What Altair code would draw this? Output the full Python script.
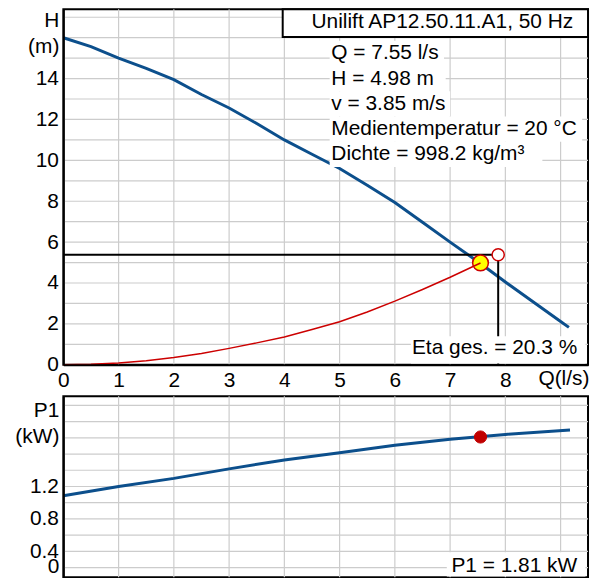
import altair as alt
import pandas as pd

# ---------------- data ----------------
# pump curve H(Q)
q_pump = [0, 0.5, 1, 1.5, 2, 2.5, 3, 3.5, 4, 4.5, 5, 5.5, 6, 6.5, 7, 7.5, 8, 8.5, 9, 9.15]
h_pump = [16.0, 15.56, 15.0, 14.5, 13.95, 13.22, 12.56, 11.8, 11.0, 10.3, 9.6, 8.78,
          7.94, 6.97, 6.0, 5.05, 4.05, 3.08, 2.12, 1.83]
# system curve
q_sys = [0, 0.5, 1, 1.5, 2, 2.5, 3, 3.5, 4, 4.5, 5, 5.5, 6, 6.5, 7, 7.55]
h_sys = [0, 0.02, 0.09, 0.2, 0.35, 0.55, 0.8, 1.07, 1.36, 1.72, 2.1, 2.58, 3.11, 3.68, 4.28, 4.98]
# power curve P1(Q)
q_p1 = [0, 1, 2, 3, 4, 5, 6, 7, 8, 9.17]
p1_kw = [1.086, 1.20, 1.30, 1.417, 1.527, 1.617, 1.707, 1.781, 1.842, 1.895]

op_q, op_h, op_p1 = 7.55, 4.98, 1.81
ref_q, ref_h = 7.87, 5.38

# axis ticks / grid
q_ticks = [0, 1, 2, 3, 4, 5, 6, 7, 8]
h_ticks = [0, 2, 4, 6, 8, 10, 12, 14]
p_ticks = [0.4, 0.8, 1.2]
q_grid = [1, 2, 3, 4, 5, 6, 7, 8, 9]
h_grid = [1, 2, 3, 4, 5, 6, 7, 8, 9, 10, 11, 12, 13, 14, 15, 16, 17]
p_grid = [0.2, 0.4, 0.6, 0.8, 1.0, 1.2, 1.4, 1.6, 1.8, 2.0, 2.2]

title_text = "Unilift AP12.50.11.A1, 50 Hz"
info_lines = ["Q = 7.55 l/s", "H = 4.98 m", "v = 3.85 m/s",
              "Medientemperatur = 20 °C", "Dichte = 998.2 kg/m³"]
eta_text = "Eta ges. = 20.3 %"
p1_text = "P1 = 1.81 kW"

# ---------------- layout / style ----------------
W = 528
H_TOP = 357.7
H_BOT = 182
Q_MAX = 9.496
H_MAX = 17.39
P_MIN, P_MAX = 0.082, 2.311
FONT = "Liberation Sans"
FS = 21
BLUE = "#0c4f8c"
RED = "#cc0000"
GRID = "#cccccc"

info_h = [15.23, 13.99, 12.76, 11.53, 10.30]
info_right = [6.89, 6.92, 7.0, 9.39, 8.67]
info_left = 4.82
info_text_q = 4.85

XS = alt.Scale(domain=[0, Q_MAX], nice=False, zero=False)
YS_T = alt.Scale(domain=[0, H_MAX], nice=False, zero=False)
YS_B = alt.Scale(domain=[P_MIN, P_MAX], nice=False, zero=False)

common_axis = dict(title=None, grid=False, ticks=False, tickSize=0, labelPadding=5,
                   labelFlush=False, labelOverlap=False, domainColor="black",
                   domainWidth=2, zindex=1)
ax_x_top = alt.Axis(values=q_ticks, **common_axis)
ax_y_top = alt.Axis(values=h_ticks, **common_axis)
ax_x_bot = alt.Axis(values=q_ticks, labels=False, domain=False, title=None, grid=False,
                    ticks=False, tickSize=0)
ax_y_bot = alt.Axis(values=p_ticks, format=".1f", **common_axis)


def xt(f="Q"):
    return alt.X(f"{f}:Q", scale=XS, axis=ax_x_top)


def yt(f="H"):
    return alt.Y(f"{f}:Q", scale=YS_T, axis=ax_y_top)


def xb(f="Q"):
    return alt.X(f"{f}:Q", scale=XS, axis=ax_x_bot)


def yb(f="P"):
    return alt.Y(f"{f}:Q", scale=YS_B, axis=ax_y_bot)


def text_mark(chart, align):
    return chart.mark_text(font=FONT, fontSize=FS, color="black", align=align,
                           baseline="middle")


# ---------------- top panel ----------------
pump_df = pd.DataFrame({"Q": q_pump, "H": h_pump})
sys_df = pd.DataFrame({"Q": q_sys, "H": h_sys})

grid_v_top = alt.Chart(pd.DataFrame({"Q": q_grid})).mark_rule(
    color=GRID, strokeWidth=1.2).encode(x=xt())
grid_h_top = alt.Chart(pd.DataFrame({"H": h_grid})).mark_rule(
    color=GRID, strokeWidth=1.2).encode(y=yt())

pump_line = alt.Chart(pump_df).mark_line(color=BLUE, strokeWidth=3).encode(x=xt(), y=yt())

hline = alt.Chart(pd.DataFrame({"Q": [0], "Q2": [ref_q], "H": [ref_h]})).mark_rule(
    color="black", strokeWidth=2).encode(x=xt(), x2="Q2:Q", y=yt())
vline = alt.Chart(pd.DataFrame({"Q": [ref_q], "H": [0], "H2": [ref_h]})).mark_rule(
    color="black", strokeWidth=2).encode(x=xt(), y=yt(), y2="H2:Q")

op_pt = alt.Chart(pd.DataFrame({"Q": [op_q], "H": [op_h]})).mark_point(
    shape="circle", filled=True, fill="#ffff00", stroke=RED, strokeWidth=1.5,
    size=250, opacity=1).encode(x=xt(), y=yt())

sys_line = alt.Chart(sys_df).mark_line(color=RED, strokeWidth=1.5).encode(x=xt(), y=yt())

ref_pt = alt.Chart(pd.DataFrame({"Q": [ref_q], "H": [ref_h]})).mark_point(
    shape="circle", filled=True, fill="white", stroke=RED, strokeWidth=1.5,
    size=150, opacity=1).encode(x=xt(), y=yt())

bg_df = pd.DataFrame({
    "Q": [info_left] * 5 + [6.29],
    "Q2": info_right + [9.45],
    "H": [h + 0.62 for h in info_h] + [1.40],
    "H2": [h - 0.62 for h in info_h] + [0.06],
})
bgs = alt.Chart(bg_df).mark_rect(color="white").encode(x=xt(), x2="Q2:Q", y=yt(), y2="H2:Q")

info_df = pd.DataFrame({"Q": [info_text_q] * 5, "H": info_h, "t": info_lines})
info_txt = text_mark(alt.Chart(info_df), "left").encode(x=xt(), y=yt(), text="t:N")

eta_txt = text_mark(alt.Chart(pd.DataFrame({"Q": [9.30], "H": [0.81], "t": [eta_text]})),
                    "right").encode(x=xt(), y=yt(), text="t:N")

title_box = alt.Chart(pd.DataFrame({"Q": [3.97], "Q2": [Q_MAX], "H": [16.04], "H2": [H_MAX]})).mark_rect(
    fill="white", stroke="black", strokeWidth=2).encode(x=xt(), x2="Q2:Q", y=yt(), y2="H2:Q")
title_txt = text_mark(alt.Chart(pd.DataFrame({"Q": [6.86], "H": [16.75], "t": [title_text]})),
                      "center").encode(x=xt(), y=yt(), text="t:N")

ylab_top = text_mark(alt.Chart(pd.DataFrame({"H": [16.8, 15.56], "t": ["H", "(m)"]})),
                     "right").encode(x=alt.value(-4), y=yt(), text="t:N")

qlab = text_mark(alt.Chart(pd.DataFrame({"Q": [9.06], "t": ["Q(l/s)"]})),
                 "center").encode(x=xt(), y=alt.value(H_TOP + 14.3), text="t:N")

top = alt.layer(grid_v_top, grid_h_top, pump_line, hline, vline, op_pt, sys_line, ref_pt,
                bgs, info_txt, eta_txt, title_box, title_txt, ylab_top, qlab
                ).properties(width=W, height=H_TOP)

# ---------------- bottom panel ----------------
p1_df = pd.DataFrame({"Q": q_p1, "P": p1_kw})
grid_v_bot = alt.Chart(pd.DataFrame({"Q": q_grid})).mark_rule(
    color=GRID, strokeWidth=1.2).encode(x=xb())
grid_h_bot = alt.Chart(pd.DataFrame({"P": p_grid})).mark_rule(
    color=GRID, strokeWidth=1.2).encode(y=yb())
p1_line = alt.Chart(p1_df).mark_line(color=BLUE, strokeWidth=3).encode(x=xb(), y=yb())
p1_pt = alt.Chart(pd.DataFrame({"Q": [op_q], "P": [op_p1]})).mark_point(
    shape="circle", filled=True, fill="#c00000", stroke="#c00000", strokeWidth=1,
    size=150, opacity=1).encode(x=xb(), y=yb())
p1_bg = alt.Chart(pd.DataFrame({"Q": [6.94], "Q2": [9.45], "P": [0.09], "P2": [0.39]})).mark_rect(
    color="white").encode(x=xb(), x2="Q2:Q", y=yb(), y2="P2:Q")
p1_txt = text_mark(alt.Chart(pd.DataFrame({"Q": [9.30], "P": [0.217], "t": [p1_text]})),
                   "right").encode(x=xb(), y=yb(), text="t:N")
ylab_bot = text_mark(alt.Chart(pd.DataFrame({"P": [2.13, 1.805, 0.21], "t": ["P1", "(kW)", "0"]})),
                     "right").encode(x=alt.value(-4), y=yb(), text="t:N")

bottom = alt.layer(grid_v_bot, grid_h_bot, p1_line, p1_pt, p1_bg, p1_txt, ylab_bot
                   ).properties(width=W, height=H_BOT)

chart = alt.vconcat(top, bottom, spacing=2.5).resolve_scale(
    x="independent", y="independent").properties(
    padding={"left": 5.7, "top": -2.5, "right": 0, "bottom": -4}
).configure_view(stroke="black", strokeWidth=2).configure_axis(
    labelFont=FONT, labelFontSize=FS, labelColor="black"
)

chart.save("out.html", embed_options={"renderer": "svg", "actions": False})
